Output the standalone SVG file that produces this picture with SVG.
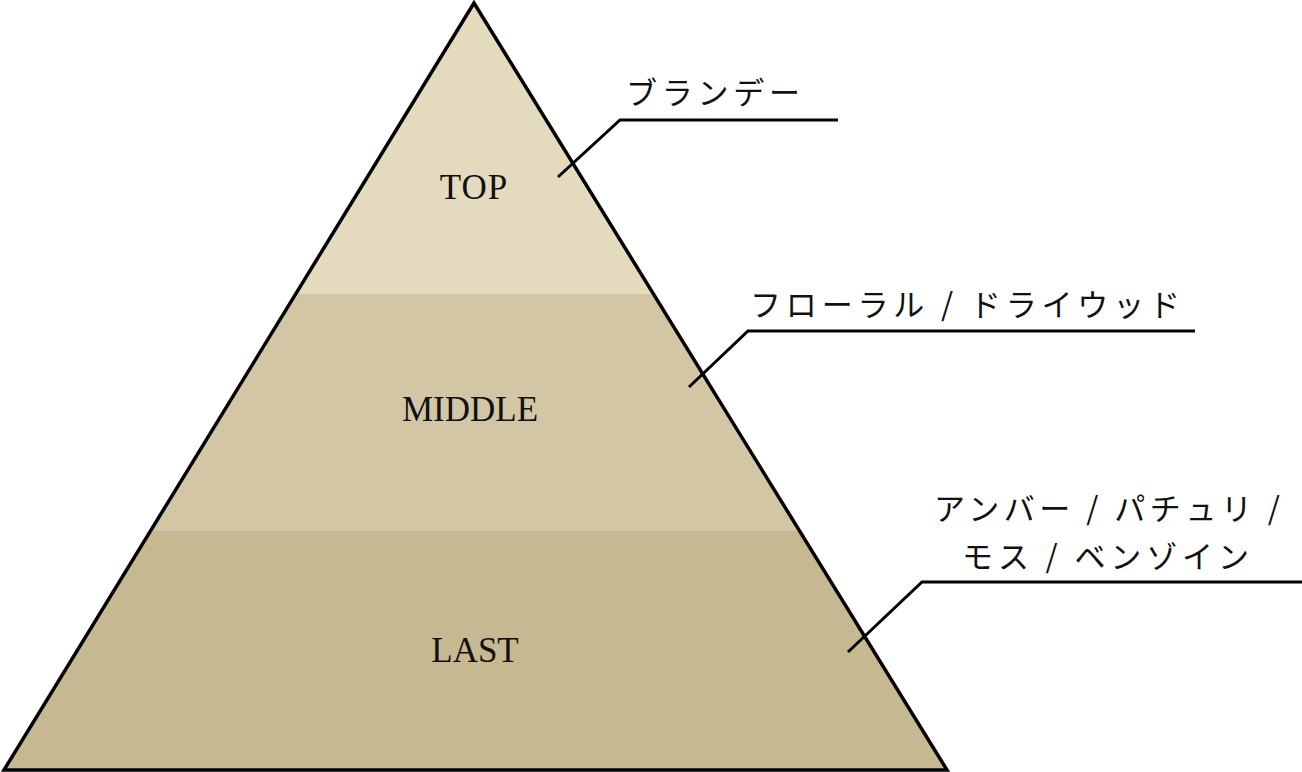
<svg xmlns="http://www.w3.org/2000/svg" width="1302" height="772" viewBox="0 0 1302 772">
<style>
.lbl{font-family:"Liberation Serif","Times New Roman",serif;font-size:35px;fill:#111;text-anchor:middle}
.jp{font-family:"Noto Sans CJK JP",sans-serif;font-weight:400;font-size:31px;fill:#111}
.ld{fill:none;stroke:#000;stroke-width:3}
</style>
<defs>
<clipPath id="tri"><polygon points="474,3 4,770 947,770"/></clipPath>
</defs>
<rect width="1302" height="772" fill="#fff"/>
<g id="pyramid">
<g clip-path="url(#tri)">
<rect id="band-top" x="0" y="0" width="960" height="294" fill="#e4dbbe"/>
<rect id="band-middle" x="0" y="294" width="960" height="237" fill="#d2c6a5"/>
<rect id="band-last" x="0" y="531" width="960" height="241" fill="#c6b890"/>
</g>
<polygon points="474,3 4,770 947,770" fill="none" stroke="#000" stroke-width="3.5" stroke-linejoin="miter"/>
</g>
<g id="node-top"><text class="lbl" x="474" y="199" letter-spacing="1">TOP</text></g>
<g id="node-middle"><text class="lbl" x="470" y="421">MIDDLE</text></g>
<g id="node-last"><text class="lbl" x="475" y="662">LAST</text></g>
<g id="connectors">
<polyline class="ld" points="558,177 620,120 838,120"/>
<polyline class="ld" points="689,387 748,331 1195,331"/>
<polyline class="ld" points="848,652 922,582 1302,582"/>
</g>
<g id="note-top"><text class="jp" x="626" y="104" textLength="174" lengthAdjust="spacing">ブランデー</text></g>
<g id="note-middle"><text class="jp" x="750" y="316" textLength="430" lengthAdjust="spacing">フローラル / ドライウッド</text></g>
<g id="note-last">
<text class="jp" x="934" y="520" textLength="346" lengthAdjust="spacing">アンバー / パチュリ /</text>
<text class="jp" x="962" y="568" textLength="287" lengthAdjust="spacing">モス / ベンゾイン</text>
</g>
</svg>
